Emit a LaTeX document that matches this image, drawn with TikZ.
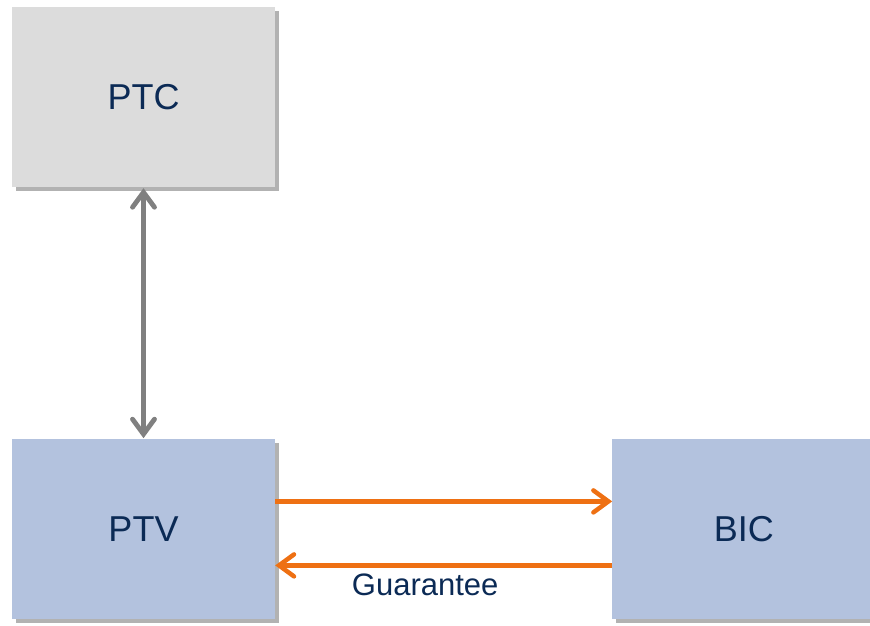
\documentclass[tikz,border=0pt]{standalone}
\usepackage{fontspec}
\setmainfont{Liberation Sans}
\usetikzlibrary{arrows.meta, positioning, shadows}
\definecolor{NavyText}{HTML}{0B2A55}
\definecolor{BoxGray}{HTML}{DCDCDC}
\definecolor{BoxBlue}{HTML}{B3C2DE}
\definecolor{LinkGray}{HTML}{808080}
\definecolor{LinkOrange}{HTML}{EE7013}

\begin{document}
\begin{tikzpicture}[x=1pt, y=1pt, every node/.style={font=\fontsize{36}{40}\selectfont, text=NavyText, align=center}]
    \useasboundingbox (0,0) rectangle (870,625);
    \tikzset{box/.style={minimum width=263pt, minimum height=180pt, inner sep=0pt,
        drop shadow={shadow xshift=4pt, shadow yshift=-4pt, fill=black, opacity=0.3}}}

    \node[box, fill=BoxGray] (ptc) at (143.5,528) {PTC};
    \node[box, fill=BoxBlue, below=252pt of ptc] (ptv) {PTV};
    \node[box, fill=BoxBlue, right=337pt of ptv] (bic) {BIC};

    % Arrows
    \draw[{Straight Barb[length=15pt, width=22pt, line cap=round]}-{Straight Barb[length=15pt, width=22pt, line cap=round]}, line width=4.8pt, color=LinkGray, shorten <=1pt, shorten >=1pt] (ptc) -- (ptv);
    \draw[-{Straight Barb[length=15pt, width=22pt, line cap=round]}, line width=4.5pt, color=LinkOrange] ([yshift=28pt]ptv.east) -- ([yshift=28pt]bic.west);
    \draw[-{Straight Barb[length=15pt, width=22pt, line cap=round]}, line width=4.5pt, color=LinkOrange] ([yshift=-36pt]bic.west) -- node[below=3pt, pos=0.555, font=\fontsize{31}{34}\selectfont]{Guarantee} ([yshift=-36pt]ptv.east);
\end{tikzpicture}
\end{document}
